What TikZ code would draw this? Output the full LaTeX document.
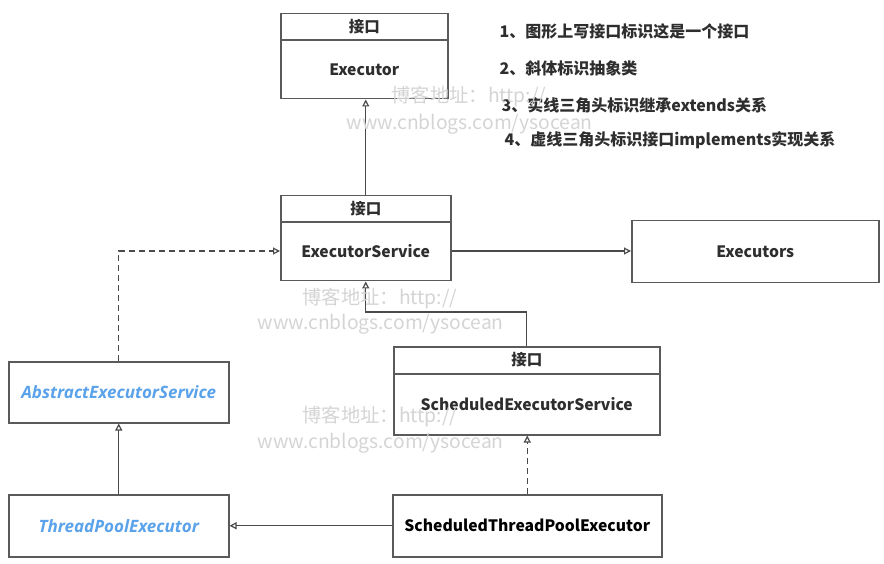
\documentclass[tikz,border=0pt]{standalone}
\usepackage{fontspec}
\setmainfont{Noto Sans CJK SC}
\newfontfamily\absfont{Open Sans}
\usetikzlibrary{arrows.meta,calc}

\definecolor{boxgray}{HTML}{5A5A5A}
\definecolor{linegray}{HTML}{4A4A4A}
\definecolor{txt}{HTML}{2E2E2E}
\definecolor{absblue}{HTML}{5AA2EA}
\definecolor{wmark}{HTML}{D4D4D4}

\begin{document}
\begin{tikzpicture}[x=1pt,y=-1pt,
  umlbox/.style={draw=boxgray, line width=1.5pt, fill=white, inner sep=0pt, anchor=north west},
  divider/.style={draw=boxgray, line width=1.5pt},
  clsname/.style={text=txt, font=\fontsize{15.7}{18}\selectfont\bfseries},
  absname/.style={text=absblue, font=\absfont\fontsize{17}{20}\selectfont\bfseries\itshape},
  headtext/.style={text=txt, font=\fontsize{15.5}{18}\selectfont\bfseries},
  conn/.style={draw=linegray, line width=1.2pt, -{Triangle[open,length=7pt,width=7pt]}},
  impl/.style={conn, dash pattern=on 6pt off 4pt},
  legendtext/.style={text=txt, anchor=west, font=\fontsize{16}{19}\selectfont\bfseries},
  wmtext/.style={text=wmark, anchor=west, font=\fontsize{19.3}{23}\selectfont}]

\useasboundingbox (0,0) rectangle (884,564);

% interface Executor
\node[umlbox, minimum width=167, minimum height=85] (exec) at (280,13) {};
\draw[divider] ($(exec.north west)+(0,27)$) -- ($(exec.north east)+(0,27)$);
\node[headtext] (exec-head) at ($(exec.north)+(0,14)$) {接口};
\node[clsname] (exec-name) at ($(exec.north)+(0,57)$) {Executor};

% interface ExecutorService
\node[umlbox, minimum width=170, minimum height=85] (es) at (280,195) {};
\draw[divider] ($(es.north west)+(0,27)$) -- ($(es.north east)+(0,27)$);
\node[headtext] (es-head) at ($(es.north)+(0,14)$) {接口};
\node[clsname] (es-name) at ($(es.north)+(0,56)$) {ExecutorService};

% utility class Executors
\node[umlbox, minimum width=247, minimum height=62] (execs) at (631,220) {};
\node[clsname] (execs-name) at (execs.center) {Executors};

% abstract class AbstractExecutorService
\node[umlbox, minimum width=220, minimum height=61] (aes) at (8,361) {};
\node[absname] (aes-name) at (aes.center) {AbstractExecutorService};

% class ThreadPoolExecutor
\node[umlbox, minimum width=220, minimum height=62] (tpe) at (8,494) {};
\node[absname] (tpe-name) at (tpe.center) {ThreadPoolExecutor};

% interface ScheduledExecutorService
\node[umlbox, minimum width=266, minimum height=88] (ses) at (393,346) {};
\draw[divider] ($(ses.north west)+(0,28)$) -- ($(ses.north east)+(0,28)$);
\node[headtext] (ses-head) at ($(ses.north)+(0,14)$) {接口};
\node[clsname] (ses-name) at ($(ses.north)+(0,58)$) {ScheduledExecutorService};

% class ScheduledThreadPoolExecutor
\node[umlbox, minimum width=269, minimum height=62] (stpe) at (392,494) {};
\node[clsname, text=black] (stpe-name) at (stpe.center) {ScheduledThreadPoolExecutor};

% relations
\draw[conn] (stpe.west) -- (tpe.east);
\draw[conn] (tpe.north) -- (aes.south);
\draw[impl] (aes.north) |- (es-name -| es.west);
\draw[conn] (es.north) -- (es.north |- exec.south);
\draw[conn] (es-name -| es.east) -- (es-name -| execs.west);
\draw[conn] (ses.north) -- ++(0,-34) -| (es.south);
\draw[impl] (stpe.north) -- (stpe.north |- ses.south);

% legend
\node[legendtext] (n1) at (496,31)  {1、图形上写接口标识这是一个接口};
\node[legendtext] (n2) at (496,68)  {2、斜体标识抽象类};
\node[legendtext] (n3) at (498,105) {3、实线三角头标识继承extends关系};
\node[legendtext] (n4) at (501,140) {4、虚线三角头标识接口implements实现关系};

% blog watermark
\node[wmtext] (w1a) at (388,97)  {博客地址：http://};
\node[wmtext] (w1b) at (343,124) {www.cnblogs.com/ysocean};
\node[wmtext] (w2a) at (299,299) {博客地址：http://};
\node[wmtext] (w2b) at (254,324) {www.cnblogs.com/ysocean};
\node[wmtext] (w3a) at (299,417) {博客地址：http://};
\node[wmtext] (w3b) at (254,443) {www.cnblogs.com/ysocean};
\end{tikzpicture}
\end{document}
